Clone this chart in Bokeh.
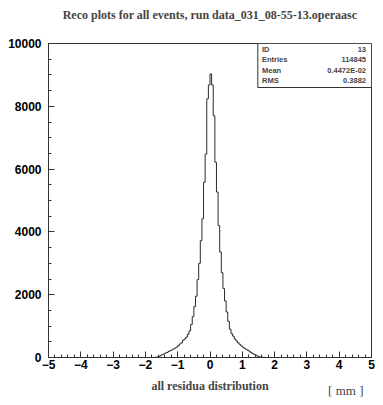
import numpy as np
from bokeh.plotting import figure
from bokeh.models import FixedTicker, Label, Range1d, Title, LinearAxis
from bokeh.embed import file_html
from bokeh.resources import INLINE

# ---- data ----
title_text = "Reco plots for all events, run data_031_08-55-13.operaasc"
x_label = "all residua distribution"
unit_label = "[ mm ]"
x_ticks = [-5, -4, -3, -2, -1, 0, 1, 2, 3, 4, 5]
y_ticks = [0, 2000, 4000, 6000, 8000, 10000]
bin_lo = -1.75
bin_width = 0.05
counts_left = [4, 8, 15, 30, 60, 90, 115, 140, 160, 190,
               220, 240, 270, 300, 330, 380, 430, 470, 550, 590,
               650, 740, 850, 1050, 1300, 1620, 1950, 2480, 3000, 3720,
               4420, 5580, 6480, 8240, 8680]
counts_right = [9030, 8680, 7700, 6220, 5270, 4200, 3360, 2700, 2200, 1800,
                1450, 1150, 900, 760, 680, 590, 530, 470, 420, 370,
                330, 290, 260, 230, 200, 160, 125, 100, 75, 45,
                25, 15, 8, 5, 3]
stats_names = ["ID", "Entries", "Mean", "RMS"]
stats_values = ["13", "114845", "0.4472E-02", "0.3882"]

counts = np.array(counts_left + counts_right, dtype=float)
edges = bin_lo + bin_width * np.arange(len(counts) + 1)

xs = np.concatenate([[-5.0], np.repeat(edges, 2), [5.0]])
ys = np.concatenate([[0.0, 0.0], np.repeat(counts, 2), [0.0, 0.0]])

X0, X1, Y0, Y1 = -5.0, 5.0, 0.0, 10000.0
W, H = 383, 405
FL, FR, FT, FB = 48, 12, 43, 48
fw, fh = W - FL - FR, H - FT - FB
def dx(px):
    return X0 + (px - FL) * (X1 - X0) / fw
def dy(py):
    return Y1 - (py - FT) * (Y1 - Y0) / fh

p = figure(width=W, height=H, output_backend="svg", toolbar_location=None,
           x_range=Range1d(X0, X1), y_range=Range1d(Y0, Y1),
           min_border_left=FL, min_border_right=FR, min_border_top=FT,
           min_border_bottom=FB)
p.background_fill_color = "white"
p.border_fill_color = "white"
p.grid.visible = False
p.outline_line_color = "#333333"
p.outline_line_width = 1

xax = p.below[0]
yax = p.left[0]

for ax in (xax, yax):
    ax.axis_line_color = "#333333"
    ax.major_tick_in = 6
    ax.major_tick_out = 0
    ax.minor_tick_in = 3
    ax.minor_tick_out = 0
    ax.major_tick_line_color = "#333333"
    ax.minor_tick_line_color = "#333333"
    ax.major_label_text_font = "Liberation Sans"
    ax.major_label_text_font_style = "bold"
    ax.major_label_text_font_size = "12px"
    ax.major_label_text_color = "black"

xax.ticker = FixedTicker(ticks=x_ticks,
                         minor_ticks=list(np.round(np.arange(-5, 5.001, 0.2), 2)))
yax.ticker = FixedTicker(ticks=y_ticks, minor_ticks=list(range(0, 10001, 500)))
xax.major_label_standoff = 2
yax.major_label_standoff = 7

xax.axis_label = x_label
xax.axis_label_text_font = "Liberation Serif"
xax.axis_label_text_font_style = "bold"
xax.axis_label_text_font_size = "12px"
xax.axis_label_standoff = 7

# title as the label of a bare axis above the frame
tax = LinearAxis(ticker=FixedTicker(ticks=[]), axis_line_color=None,
                 major_tick_out=0, major_tick_in=0, minor_tick_out=0, minor_tick_in=0,
                 major_label_text_font_size="0px", bounds=(X0, dx(199.5)),
                 axis_label=title_text, axis_label_text_font="Liberation Serif",
                 axis_label_text_font_style="bold", axis_label_text_font_size="12px",
                 axis_label_standoff=22)
p.add_layout(tax, "above")

unit = Title(text=unit_label, align="right", vertical_align="top",
             text_font="Liberation Serif", text_font_style="normal",
             text_font_size="13px", offset=8, standoff=-25)
p.add_layout(unit, "below")

p.line(xs, ys, line_color="#2a2a2a", line_width=1)

# stats box
p.quad(left=[dx(257.3)], right=[X1], top=[Y1], bottom=[dy(87)],
       fill_color="white", line_color="#333333", line_width=1)
row_y = [48.5, 59, 69.5, 80]
for name, val, ry in zip(stats_names, stats_values, row_y):
    p.add_layout(Label(x=dx(261.5), y=dy(ry), text=name, text_font="Liberation Sans",
                       text_font_style="bold", text_font_size="7.5px",
                       text_baseline="middle", text_align="left"))
    p.add_layout(Label(x=dx(365.5), y=dy(ry), text=val, text_font="Liberation Sans",
                       text_font_style="bold", text_font_size="7.5px",
                       text_baseline="middle", text_align="right"))

open("out.html", "w").write(file_html(p, INLINE))
